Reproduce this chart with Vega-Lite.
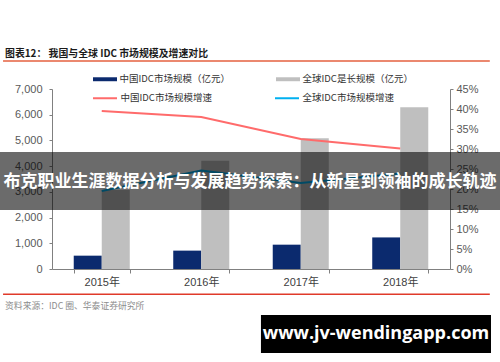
{
  "$schema": "https://vega.github.io/schema/vega-lite/v6.json",
  "width": 398,
  "height": 180,
  "autosize": "none",
  "padding": {"left": 52, "top": 89, "right": 50, "bottom": 93},
  "background": "white",
  "config": {"view": {"stroke": null}},
  "layer": [
    {
      "data": {"values": [
        {"year": "2015年", "series": "中国IDC市场规模（亿元）", "value": 518.6},
        {"year": "2016年", "series": "中国IDC市场规模（亿元）", "value": 714.5},
        {"year": "2017年", "series": "中国IDC市场规模（亿元）", "value": 946.1},
        {"year": "2018年", "series": "中国IDC市场规模（亿元）", "value": 1228},
        {"year": "2015年", "series": "全球IDC是长规模（亿元）", "value": 3070},
        {"year": "2016年", "series": "全球IDC是长规模（亿元）", "value": 4210},
        {"year": "2017年", "series": "全球IDC是长规模（亿元）", "value": 5080},
        {"year": "2018年", "series": "全球IDC是长规模（亿元）", "value": 6290}
      ]},
      "mark": {"type": "bar"},
      "encoding": {
        "x": {"field": "year", "type": "nominal", "scale": {"paddingInner": 0.437, "paddingOuter": 0.2185},
          "axis": {"title": null, "labelAngle": 0, "tickBand": "extent", "domainColor": "#808080", "tickColor": "#808080", "tickSize": 4, "labelFont": "Liberation Sans, Noto Sans CJK SC", "labelFontSize": 11, "labelColor": "#404040", "labelPadding": 3}},
        "xOffset": {"field": "series", "type": "nominal", "scale": {"domain": ["中国IDC市场规模（亿元）", "全球IDC是长规模（亿元）"], "paddingInner": 0, "paddingOuter": 0}},
        "y": {"field": "value", "type": "quantitative", "scale": {"domain": [0, 7000], "nice": false},
          "axis": {"title": null, "orient": "left", "values": [0, 1000, 2000, 3000, 4000, 5000, 6000, 7000], "format": ",.0f", "grid": false, "domainColor": "#808080", "tickColor": "#808080", "tickSize": 3, "labelPadding": 7, "labelFont": "Liberation Sans", "labelFontSize": 11, "labelColor": "#595959"}},
        "fill": {"field": "series", "type": "nominal",
          "scale": {"domain": ["中国IDC市场规模（亿元）", "全球IDC是长规模（亿元）"], "range": ["#0b2a6e", "#bfbfbf"]},
          "legend": {"orient": "none", "legendX": 47, "legendY": -16, "direction": "horizontal", "columns": 2, "columnPadding": 46, "symbolType": "M-2,-0.33H2V0.33H-2Z", "symbolSize": 144, "symbolStrokeWidth": 0, "symbolOpacity": 1, "labelOffset": 8.5, "labelFont": "Noto Sans CJK SC", "labelFontSize": 9.5, "labelColor": "#333333", "labelLimit": 300, "padding": 0, "title": null}}
      }
    },
    {
      "data": {"values": [
        {"year": "2015年", "series": "中国IDC市场规模增速", "rate": 0.395},
        {"year": "2016年", "series": "中国IDC市场规模增速", "rate": 0.38},
        {"year": "2017年", "series": "中国IDC市场规模增速", "rate": 0.325},
        {"year": "2018年", "series": "中国IDC市场规模增速", "rate": 0.301},
        {"year": "2015年", "series": "全球IDC市场规模增速", "rate": 0.195},
        {"year": "2016年", "series": "全球IDC市场规模增速", "rate": 0.246},
        {"year": "2017年", "series": "全球IDC市场规模增速", "rate": 0.215},
        {"year": "2018年", "series": "全球IDC市场规模增速", "rate": 0.239}
      ]},
      "mark": {"type": "line", "strokeWidth": 2},
      "encoding": {
        "x": {"field": "year", "type": "nominal", "scale": {"paddingInner": 0.437, "paddingOuter": 0.2185}, "axis": null},
        "y": {"field": "rate", "type": "quantitative", "scale": {"domain": [0, 0.45], "nice": false},
          "axis": {"title": null, "orient": "right", "values": [0, 0.05, 0.1, 0.15, 0.2, 0.25, 0.3, 0.35, 0.4, 0.45], "format": ".0%", "grid": false, "domainColor": "#808080", "tickColor": "#808080", "tickSize": 3, "labelPadding": 3, "labelFont": "Liberation Sans", "labelFontSize": 11, "labelColor": "#595959"}},
        "stroke": {"field": "series", "type": "nominal",
          "scale": {"domain": ["中国IDC市场规模增速", "全球IDC市场规模增速"], "range": ["#ff6b6b", "#00b0f0"]},
          "legend": {"orient": "none", "legendX": 46, "legendY": 2, "direction": "horizontal", "columns": 2, "columnPadding": 59, "symbolType": "M-2,0H2", "symbolSize": 144, "symbolStrokeWidth": 2, "symbolOpacity": 1, "labelOffset": 8.5, "labelFont": "Noto Sans CJK SC", "labelFontSize": 9.5, "labelColor": "#333333", "labelLimit": 300, "padding": 0, "title": null}}
      }
    },
    {
      "data": {"values": [{}]},
      "mark": {"type": "rect", "color": "#000000", "opacity": 0.58},
      "encoding": {
        "x": {"datum": -0.131, "type": "quantitative", "scale": {"domain": [0, 1], "nice": false, "zero": false}, "axis": null},
        "x2": {"datum": 1.126},
        "y": {"datum": 2295, "type": "quantitative", "scale": {"domain": [0, 7000], "nice": false}, "axis": null},
        "y2": {"datum": 4550}
      }
    },
    {
      "data": {"values": [{}]},
      "mark": {"type": "text", "text": "布克职业生涯数据分析与发展趋势探索：从新星到领袖的成长轨迹", "font": "Noto Sans CJK SC", "fontWeight": "bold", "fontSize": 17, "color": "#ffffff", "align": "center", "baseline": "middle"},
      "encoding": {
        "x": {"datum": 0.4975, "type": "quantitative", "scale": {"domain": [0, 1], "nice": false, "zero": false}, "axis": null},
        "y": {"datum": 3384, "type": "quantitative", "scale": {"domain": [0, 7000], "nice": false}, "axis": null}
      }
    },
    {
      "data": {"values": [{}]},
      "mark": {"type": "text", "text": "图表12：  我国与全球 IDC 市场规模及增速对比", "font": "Noto Sans CJK SC", "fontWeight": "bold", "fontSize": 9.9, "color": "#1a1a1a", "align": "left", "baseline": "middle"},
      "encoding": {
        "x": {"datum": -0.118, "type": "quantitative", "scale": {"domain": [0, 1], "nice": false, "zero": false}, "axis": null},
        "y": {"datum": 8370, "type": "quantitative", "scale": {"domain": [0, 7000], "nice": false}, "axis": null}
      }
    },
    {
      "data": {"values": [{}]},
      "mark": {"type": "rule", "color": "#e5603f", "strokeWidth": 1.5},
      "encoding": {
        "x": {"datum": -0.123, "type": "quantitative", "scale": {"domain": [0, 1], "nice": false, "zero": false}, "axis": null},
        "x2": {"datum": 1.1},
        "y": {"datum": 8090, "type": "quantitative", "scale": {"domain": [0, 7000], "nice": false}, "axis": null}
      }
    },
    {
      "data": {"values": [{}]},
      "mark": {"type": "rule", "color": "#e03a2a", "strokeWidth": 1.5},
      "encoding": {
        "x": {"datum": -0.123, "type": "quantitative", "scale": {"domain": [0, 1], "nice": false, "zero": false}, "axis": null},
        "x2": {"datum": 1.1},
        "y": {"datum": -984, "type": "quantitative", "scale": {"domain": [0, 7000], "nice": false}, "axis": null}
      }
    },
    {
      "data": {"values": [{}]},
      "mark": {"type": "text", "text": "资料来源：IDC 圈、华泰证券研究所", "font": "Noto Sans CJK SC", "fontSize": 8.8, "color": "#8c8c8c", "align": "left", "baseline": "middle"},
      "encoding": {
        "x": {"datum": -0.118, "type": "quantitative", "scale": {"domain": [0, 1], "nice": false, "zero": false}, "axis": null},
        "y": {"datum": -1439, "type": "quantitative", "scale": {"domain": [0, 7000], "nice": false}, "axis": null}
      }
    },
    {
      "data": {"values": [{}]},
      "mark": {"type": "rect", "color": "#000000"},
      "encoding": {
        "x": {"datum": 0.525, "type": "quantitative", "scale": {"domain": [0, 1], "nice": false, "zero": false}, "axis": null},
        "x2": {"datum": 1.103},
        "y": {"datum": -1789, "type": "quantitative", "scale": {"domain": [0, 7000], "nice": false}, "axis": null},
        "y2": {"datum": -3267}
      }
    },
    {
      "data": {"values": [{}]},
      "mark": {"type": "text", "text": "www.jv-wendingapp.com", "font": "Open Sans", "fontWeight": "bold", "fontSize": 18, "color": "#ffffff", "align": "center", "baseline": "middle"},
      "encoding": {
        "x": {"datum": 0.814, "type": "quantitative", "scale": {"domain": [0, 1], "nice": false, "zero": false}, "axis": null},
        "y": {"datum": -2528, "type": "quantitative", "scale": {"domain": [0, 7000], "nice": false}, "axis": null}
      }
    }
  ],
  "resolve": {"scale": {"x": "independent", "y": "independent"}}
}
